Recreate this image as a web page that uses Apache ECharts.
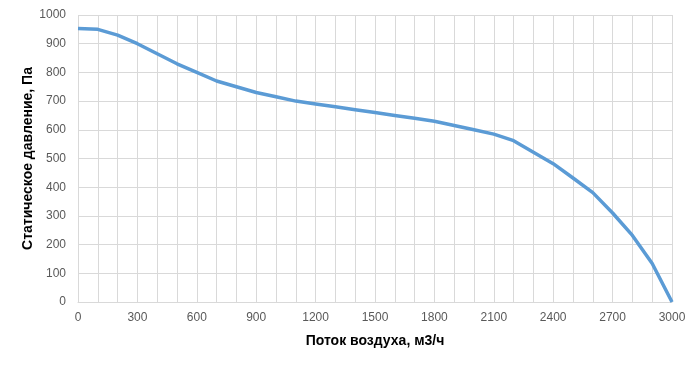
<!DOCTYPE html>
<html>
<head>
<meta charset="utf-8">
<script src="https://cdn.jsdelivr.net/npm/echarts@6/dist/echarts.min.js"></script>
<style>html,body{margin:0;padding:0;background:#fff}#c{width:700px;height:366px}</style>
</head>
<body>
<div id="c"></div>
<script>
const flow = [0,100,200,300,400,500,600,700,800,900,1000,1100,1200,1300,1400,1500,1600,1700,1800,1900,2000,2100,2200,2300,2400,2500,2600,2700,2800,2900,3000];
const pressure = [953,950,930,900,865,830,800,770,750,730,715,700,690,680,670,660,650,640,630,615,600,585,562,522,482,432,381,310,232,134,0];
const xTitle = 'Поток воздуха, м3/ч';
const yTitle = 'Статическое давление, Па';

const chart = echarts.init(document.getElementById('c'));
const font = 'Liberation Sans, Arial, sans-serif';
chart.setOption({
  animation: false,
  grid: {left: 78, right: 28, top: 15, bottom: 64},
  xAxis: {
    type: 'value', min: 0, max: 3000, interval: 100,
    name: xTitle, nameLocation: 'middle', nameGap: 32, nameMoveOverlap: false,
    nameTextStyle: {fontFamily: font, fontSize: 14, fontWeight: 'bold', color: '#000'},
    axisLine: {show: true, lineStyle: {color: '#d9d9d9'}},
    axisTick: {show: false},
    axisLabel: {fontFamily: font, fontSize: 12, color: '#595959', margin: 10,
      formatter: v => (v % 300 === 0 ? String(v) : '')},
    splitLine: {show: true, lineStyle: {color: '#d9d9d9', width: 1}}
  },
  yAxis: {
    type: 'value', min: 0, max: 1000, interval: 100,
    name: yTitle, nameLocation: 'middle', nameGap: 43, nameMoveOverlap: false,
    nameTextStyle: {fontFamily: font, fontSize: 14, fontWeight: 'bold', color: '#000'},
    axisLine: {show: false},
    axisTick: {show: false},
    axisLabel: {fontFamily: font, fontSize: 12, color: '#595959', margin: 12,
      formatter: v => String(v)},
    splitLine: {show: true, lineStyle: {color: '#d9d9d9', width: 1}}
  },
  series: [{
    type: 'line',
    data: flow.map((f, i) => [f, pressure[i]]),
    showSymbol: false,
    smooth: false,
    lineStyle: {color: '#5b9bd5', width: 3.5},
    itemStyle: {color: '#5b9bd5'}
  }]
});
</script>
</body>
</html>
